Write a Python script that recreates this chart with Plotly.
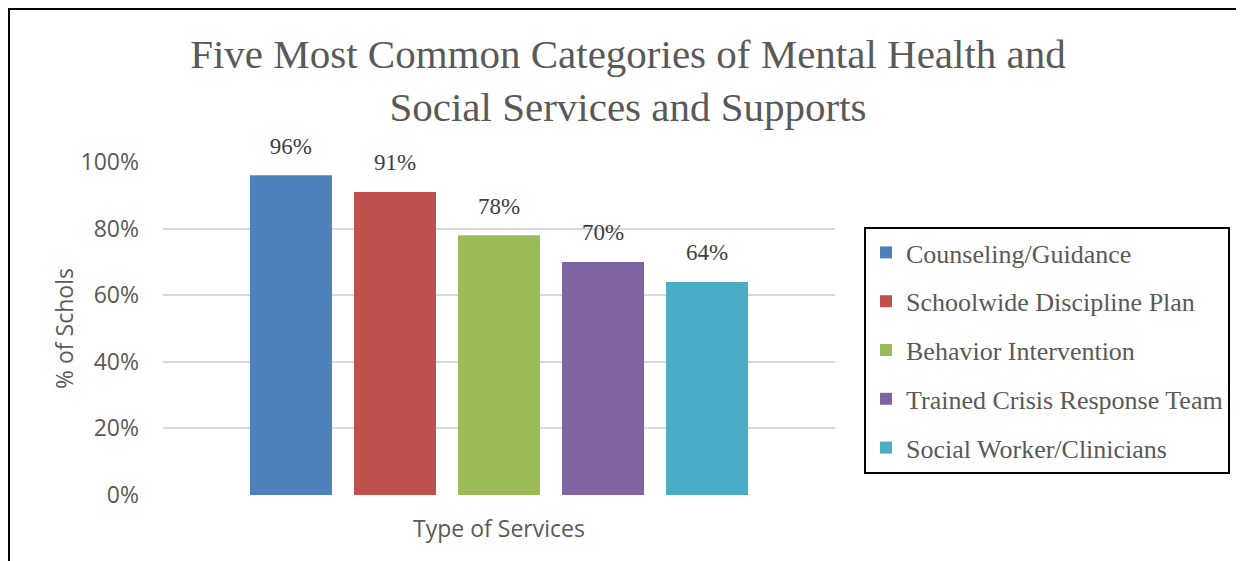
import plotly.graph_objects as go

category = ["Type of Services"]
series_names = ["Counseling/Guidance", "Schoolwide Discipline Plan",
                "Behavior Intervention", "Trained Crisis Response Team",
                "Social Worker/Clinicians"]
values = [0.96, 0.91, 0.78, 0.70, 0.64]
colors = ["#4F81BD", "#C0504D", "#9BBB59", "#8064A2", "#4BACC6"]
y_ticks = [0, 0.2, 0.4, 0.6, 0.8, 1.0]
y_tick_labels = ["0%", "20%", "40%", "60%", "80%", "100%"]

W, H = 1236, 553
ML, MR, MT, MB = 155, 409, 154, 66
pw, ph = W - ML - MR, H - MT - MB
BARGAP = 0.226

def px_x(p):
    return (p - ML) / pw

def px_y(p):
    return (H - MB - p) / ph

fig = go.Figure()
for i, (name, v, c) in enumerate(zip(series_names, values, colors)):
    fig.add_trace(go.Bar(
        x=[""], y=[v], name=name, marker=dict(color=c, line=dict(width=0)),
        legendgroup=f"g{i}",
    ))
for i, (name, v) in enumerate(zip(series_names, values)):
    fig.add_trace(go.Scatter(
        x=[""], y=[v], mode="markers+text", text=[f"{round(v*100)}%"],
        textposition="top center",
        textfont=dict(family="Liberation Serif", size=23, color="#404040"),
        marker=dict(size=24, color="rgba(0,0,0,0)"),
        showlegend=False, hoverinfo="skip", cliponaxis=False,
        legendgroup=f"g{i}",
    ))

fig.update_layout(
    width=W, height=H,
    margin=dict(l=ML, r=MR, t=MT, b=MB, autoexpand=False),
    paper_bgcolor="white", plot_bgcolor="white",
    barmode="group", bargap=BARGAP, bargroupgap=0.2115,
    scattermode="group", scattergap=BARGAP,
    title=dict(text="Five Most Common Categories of Mental Health and<br>Social Services and Supports",
               x=0.5016, xref="container", xanchor="center",
               y=1 - 60 / H, yref="container", yanchor="top",
               font=dict(family="Liberation Serif", size=41, color="#595959")),
    legend=dict(x=px_x(856), y=px_y(219), xanchor="left", yanchor="top",
                bordercolor="black", borderwidth=2, bgcolor="white",
                font=dict(family="Liberation Serif", size=26, color="#595959"),
                tracegroupgap=12, traceorder="grouped"),
    showlegend=True,
    xaxis=dict(showticklabels=False, showgrid=False, zeroline=False, showline=False,
               title=dict(text="Type of Services", standoff=25,
                          font=dict(family="Open Sans", size=23, color="#595959"))),
    yaxis=dict(range=[0, 1], tickvals=y_ticks, ticktext=y_tick_labels,
               showgrid=True, gridcolor="#D9D9D9", gridwidth=2,
               zeroline=False, showline=False, ticklabelstandoff=23,
               tickfont=dict(family="Open Sans", size=23, color="#595959"),
               title=dict(text="% of Schols", standoff=0,
                          font=dict(family="Open Sans", size=23, color="#595959"))),
    shapes=[
        dict(type="line", xref="paper", yref="paper",
             x0=px_x(1), x1=px_x(1), y0=px_y(600), y1=px_y(0),
             line=dict(color="black", width=2)),
        dict(type="line", xref="paper", yref="paper",
             x0=px_x(0), x1=px_x(1300), y0=px_y(1), y1=px_y(1),
             line=dict(color="black", width=2)),
    ],
)

fig.write_html("out.html")
